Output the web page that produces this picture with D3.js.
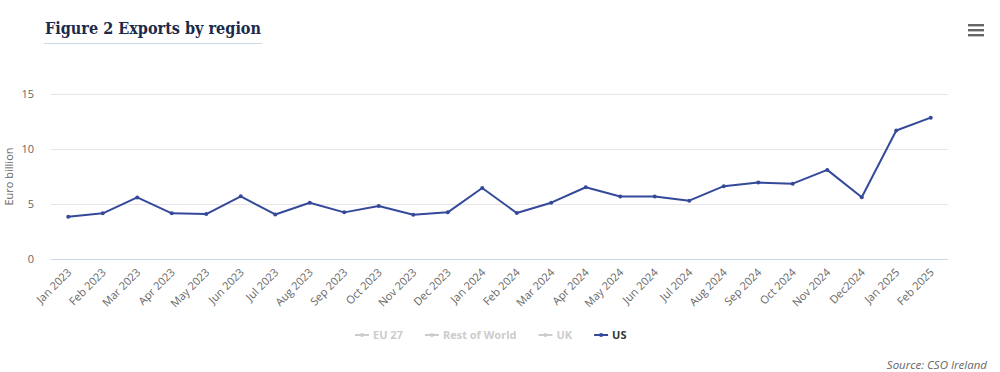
<!DOCTYPE html>
<html><head><meta charset="utf-8">
<script src="https://cdn.jsdelivr.net/npm/d3@7/dist/d3.min.js"></script>
<style>body{margin:0;background:#fff;}svg{display:block;}</style>
</head><body>
<svg id="c" width="1000" height="372"></svg>
<script>
const categories = ["Jan 2023","Feb 2023","Mar 2023","Apr 2023","May 2023","Jun 2023","Jul 2023","Aug 2023","Sep 2023","Oct 2023","Nov 2023","Dec 2023","Jan 2024","Feb 2024","Mar 2024","Apr 2024","May 2024","Jun 2024","Jul 2024","Aug 2024","Sep 2024","Oct 2024","Nov 2024","Dec2024","Jan 2025","Feb 2025"];
const usValues = [3.85,4.15,5.6,4.15,4.08,5.7,4.05,5.12,4.24,4.82,4.03,4.24,6.45,4.18,5.12,6.52,5.68,5.68,5.3,6.62,6.95,6.85,8.1,5.62,11.68,12.85];
const yTicks = [0,5,10,15];
const legendItems = ["EU 27","Rest of World","UK","US"];
const legendVisible = [false,false,false,true];
const title = "Figure 2 Exports by region";
const yTitle = "Euro billion";
const source = "Source: CSO Ireland";

const svg = d3.select("#c");
const font = "'Open Sans', sans-serif";
const L = 51, R = 948, T = 94, B = 259;
const x = d3.scaleBand().domain(categories).range([L, R]);
const y = d3.scaleLinear().domain([0, 15]).range([B, T]);
const lineColor = "#34499a";

// title
svg.append("text").attr("x", 45).attr("y", 34).text(title)
  .attr("font-family", "'DejaVu Serif', serif").attr("font-weight", "bold")
  .attr("font-size", 16).attr("fill", "#1b2a4a")
  .attr("textLength", 216).attr("lengthAdjust", "spacingAndGlyphs");
svg.append("line").attr("x1", 44).attr("x2", 262).attr("y1", 43.5).attr("y2", 43.5)
  .attr("stroke", "#cfd8e6").attr("stroke-width", 1);

// menu icon
[0,1,2].forEach(i => svg.append("rect").attr("x", 968).attr("y", 24 + i*5).attr("width", 16).attr("height", 2.4).attr("fill", "#666"));

// grid
const yAxis = d3.axisLeft(y).tickValues(yTicks).tickSize(-(R - L)).tickPadding(16);
const gy = svg.append("g").attr("transform", `translate(${L},0)`).call(yAxis);
gy.select(".domain").remove();
gy.selectAll(".tick line").attr("stroke", d => d === 0 ? "none" : "#e6e6e6");
gy.selectAll(".tick text").attr("font-family", font).attr("font-size", 11).attr("fill", "#666").attr("dy", "0.32em").attr("x", -17);

// x axis
const xAxis = d3.axisBottom(x).tickSize(0).tickPadding(0);
const gx = svg.append("g").attr("transform", `translate(0,${B})`).call(xAxis);
gx.select(".domain").attr("stroke", "#ccd6eb").attr("d", `M${L},0.5H${R}`);
gx.selectAll(".tick text").attr("font-family", font).attr("font-size", 11).attr("fill", "#666")
  .attr("text-anchor", "end").attr("dy", 0).attr("y", 0)
  .attr("transform", "translate(4,14) rotate(-45)");

// y title
svg.append("text").attr("transform", `translate(13,${(T+B)/2}) rotate(-90)`).attr("text-anchor", "middle")
  .attr("font-family", font).attr("font-size", 11).attr("fill", "#666").text(yTitle);

// line
const data = categories.map((c, i) => ({c, v: usValues[i]}));
const line = d3.line().x(d => x(d.c) + x.bandwidth()/2).y(d => y(d.v));
svg.append("path").datum(data).attr("d", line).attr("fill", "none").attr("stroke", lineColor).attr("stroke-width", 2).attr("stroke-linejoin", "round");
svg.selectAll("circle.pt").data(data).enter().append("circle").attr("class", "pt")
  .attr("cx", d => x(d.c) + x.bandwidth()/2).attr("cy", d => y(d.v)).attr("r", 2).attr("fill", lineColor);

// legend
const lg = svg.append("g");
let lx = 355;
legendItems.forEach((name, i) => {
  const col = legendVisible[i] ? lineColor : "#cccccc";
  const g = lg.append("g").attr("transform", `translate(${lx},335)`);
  g.append("line").attr("x1", 0).attr("x2", 14).attr("y1", 0).attr("y2", 0).attr("stroke", col).attr("stroke-width", 2);
  g.append("circle").attr("cx", 7).attr("cy", 0).attr("r", 2).attr("fill", col);
  const t = g.append("text").attr("x", 18).attr("y", 4).text(name)
    .attr("font-family", font).attr("font-size", 11).attr("font-weight", "bold")
    .attr("fill", legendVisible[i] ? "#333" : "#cccccc");
  lx += 18 + t.node().getComputedTextLength() + 22;
});

// source
svg.append("text").attr("x", 987).attr("y", 369).attr("text-anchor", "end").text(source)
  .attr("font-family", font).attr("font-size", 11.5).attr("font-style", "italic").attr("fill", "#666");
</script>
</body></html>
